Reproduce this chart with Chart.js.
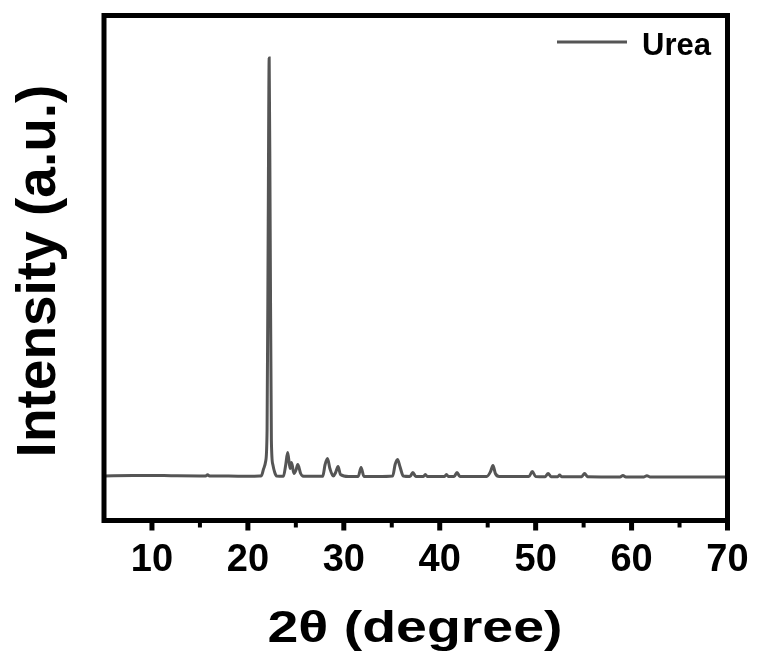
<!DOCTYPE html>
<html>
<head>
<meta charset="utf-8">
<title>Urea XRD</title>
<script src="https://cdn.jsdelivr.net/npm/chart.js@4.4.1/dist/chart.umd.min.js"></script>
<style>
    html, body { margin: 0; padding: 0; background: #fff; }
    #wrap { width: 757px; height: 664px; }
</style>
</head>
<body>
<div id="wrap"><canvas id="xrdChart" width="757" height="664"></canvas></div>
<script>
// Diffraction pattern of urea, 2-theta in degrees against intensity (counts)
const twoTheta = [
    5, 8, 10, 12, 15, 15.6, 15.8, 16.0, 18, 20, 21.2,
    21.4, 21.65, 21.85, 22.0, 22.12, 22.22, 22.32, 22.45, 22.6, 22.8, 23.0,
    23.7, 23.95, 24.15, 24.4, 24.55, 24.8, 25.0, 25.2, 25.5, 25.7, 26.0,
    27.8, 28.05, 28.3, 28.55, 28.9, 29.15, 29.4, 29.65, 30.5,
    31.5, 31.8, 32.1, 33.5, 35.1, 35.35, 35.6, 35.85, 36.2,
    36.9, 37.2, 37.5, 38.3, 38.5, 38.7, 40.5, 40.7, 40.9,
    41.5, 41.8, 42.1, 44.9, 45.3, 45.55, 45.8, 46.2,
    49.3, 49.65, 50.0, 51.0, 51.3, 51.6, 52.3, 52.5, 52.7,
    54.8, 55.1, 55.4, 58.8, 59.1, 59.4, 61.3, 61.6, 61.9, 65, 70
];
const intensity = [
    446, 449, 450, 448, 446, 446, 458, 446, 444, 442, 444,
    446, 520, 590, 900, 3000, 4625, 3000, 800, 560, 480, 445,
    442, 560, 680, 520, 580, 470, 500, 560, 470, 445, 442,
    442, 560, 620, 520, 445, 480, 540, 460, 440,
    440, 530, 440, 440, 445, 560, 610, 540, 445,
    440, 480, 440, 440, 460, 440, 440, 460, 440,
    440, 480, 440, 440, 490, 550, 470, 440,
    440, 490, 440, 438, 470, 438, 438, 455, 438,
    438, 470, 438, 436, 450, 436, 436, 448, 436, 436, 435
];
const xTicks = [10, 20, 30, 40, 50, 60, 70];
const xMinorTicks = [15, 25, 35, 45, 55, 65];
const seriesName = 'Urea';

const points = twoTheta.map((t, i) => ({ x: t, y: intensity[i] }));

// frame, ticks, titles and legend are painted on top of the line
const framePlugin = {
    id: 'frame',
    afterDraw(chart) {
        const ctx = chart.ctx;
        const area = chart.chartArea;
        const xs = chart.scales.x;
        ctx.save();

        ctx.strokeStyle = '#000';
        ctx.fillStyle = '#000';

        // minor ticks
        ctx.lineWidth = 4;
        xMinorTicks.forEach(v => {
            const px = xs.getPixelForValue(v);
            ctx.beginPath();
            ctx.moveTo(px, area.bottom);
            ctx.lineTo(px, area.bottom + 7);
            ctx.stroke();
        });
        // major ticks + labels
        ctx.lineWidth = 5;
        ctx.font = 'bold 38px "Liberation Sans", Arial, sans-serif';
        ctx.textAlign = 'center';
        ctx.textBaseline = 'alphabetic';
        xTicks.forEach(v => {
            const px = xs.getPixelForValue(v);
            ctx.beginPath();
            ctx.moveTo(px, area.bottom);
            ctx.lineTo(px, area.bottom + 10);
            ctx.stroke();
            ctx.fillText(String(v), px, 571);
        });

        // box around the plot
        ctx.lineWidth = 5;
        ctx.strokeRect(area.left, area.top, area.right - area.left, area.bottom - area.top);

        // x title, slightly widened
        ctx.font = 'bold 45px "Liberation Sans", Arial, sans-serif';
        const xTitle = '2θ (degree)';
        const w = ctx.measureText(xTitle).width;
        ctx.save();
        ctx.translate(415, 642);
        ctx.scale(295 / w, 1);
        ctx.fillText(xTitle, 0, 0);
        ctx.restore();

        // y title
        ctx.save();
        ctx.translate(55, 271);
        ctx.rotate(-Math.PI / 2);
        ctx.font = 'bold 55px "Liberation Sans", Arial, sans-serif';
        ctx.fillText('Intensity (a.u.)', 0, 0);
        ctx.restore();

        // legend
        ctx.strokeStyle = '#555';
        ctx.lineWidth = 3;
        ctx.beginPath();
        ctx.moveTo(557, 42);
        ctx.lineTo(627, 42);
        ctx.stroke();
        ctx.font = 'bold 31px "Liberation Sans", Arial, sans-serif';
        ctx.textAlign = 'left';
        ctx.fillText(seriesName, 642, 55);

        ctx.restore();
    }
};

const ctx = document.getElementById('xrdChart').getContext('2d');
new Chart(ctx, {
    type: 'line',
    data: {
        datasets: [{
            label: seriesName,
            data: points,
            borderColor: '#555555',
            borderWidth: 3,
            pointRadius: 0,
            fill: false,
            cubicInterpolationMode: 'monotone'
        }]
    },
    options: {
        responsive: false,
        animation: false,
        layout: {
            padding: { left: 104, top: 15.5, right: 29.5, bottom: 143.5 }
        },
        plugins: {
            legend: { display: false },
            tooltip: { enabled: false }
        },
        scales: {
            x: {
                type: 'linear',
                min: 5,
                max: 70,
                display: false
            },
            y: {
                min: 0,
                max: 5050,
                display: false
            }
        }
    },
    plugins: [framePlugin]
});
</script>
</body>
</html>
